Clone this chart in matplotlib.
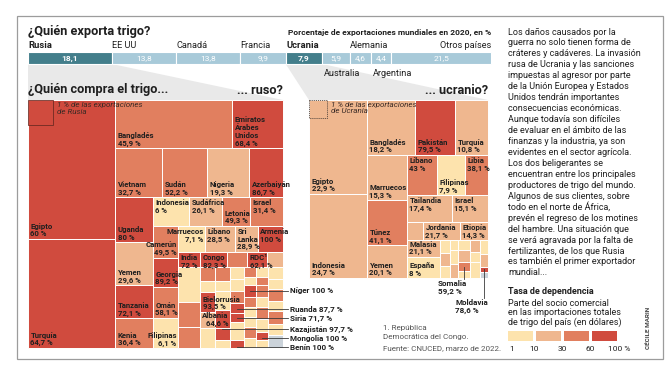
import matplotlib.pyplot as plt
from matplotlib.patches import Rectangle, Polygon

plt.rcParams['font.family'] = ['Roboto', 'DejaVu Sans']

# ---- world exports (top bar), % of world wheat exports 2020
exporters = ["Rusia", "EE UU", "Canadá", "Francia", "Ucrania", "Australia",
             "Alemania", "Argentina", "Otros países"]
export_share = [18.1, 13.8, 13.8, 9.9, 7.9, 5.9, 4.6, 4.4, 21.5]
highlight = ["Rusia", "Ucrania"]
named_below = ["Australia", "Argentina"]

# ---- buyers of Russian wheat: (name, share of exports %, dependency %)
ru_col_a = [("Egipto", 19.12, 60), ("Turquía", 15.0, 64.7)]
ru_row1 = [("Bangladés", 8.88, 45.9), ("Emiratos\nÁrabes\nUnidos", 3.87, 68.4)]
ru_row2 = [("Vietnam", 3.64, 32.7), ("Sudán", 3.49, 52.2), ("Nigeria", 3.25, 19.3),
           ("Azerbaiyán", 2.63, 86.7)]
ru_col_b1 = [("Uganda", 2.70, 80), ("Yemen", 2.58, 29.6), ("Tanzania", 1.98, 72.1),
             ("Kenia", 1.80, 36.4)]
ru_row_a = [("Indonesia", 1.65, 6), ("Sudáfrica", 1.51, 26.1), ("Letonia", 1.28, 49.3),
            ("Israel", 1.51, 31.4)]
ru_col_c1 = [("Camerún", 1.26, 49.5), ("Georgia", 1.15, 89.2), ("Omán", 1.23, 58.1),
             ("Filipinas", 1.19, 6.1)]
ru_row_b = [("Marruecos", 1.11, 7.1), ("Líbano", 1.23, 28.5), ("Sri\nLanka", 0.95, 28.9),
            ("Armenia", 1.03, 100)]
ru_row_c = [("India", 0.52, 72), ("Congo", 0.64, 82.3), ("", 0.47, 45), ("RDC¹", 0.47, 62.1),
            ("", 0.38, 12)]
ru_small = [
    [("", 1.22, 6), ("", 0.87, 40), ("", 0.73, 35)],
    [("", 0.33, 45), ("", 0.26, 8), ("Bielorrusia", 0.47, 93.5), ("", 0.38, 20), ("", 0.47, 5)],
    [("", 0.33, 50), ("", 0.24, 4), ("", 0.45, 3), ("Albania", 0.43, 64.6),
     ("Kazajistán", 0.28, 97.7), ("", 0.19, 6)],
    [("", 0.27, 6), ("", 0.27, 4), ("", 0.27, 45), ("Ruanda", 0.22, 87.7), ("Siria", 0.20, 71.7),
     ("", 0.40, 5), ("Benín", 0.18, 100)],
    [("", 0.19, 40), ("", 0.15, 5), ("Níger", 0.23, 100), ("", 0.19, 35), ("", 0.19, 3),
     ("", 0.19, 5), ("", 0.21, 40), ("", 0.19, 4)],
    [("", 0.19, 4), ("", 0.15, 45), ("", 0.23, 40), ("", 0.19, 4), ("", 0.23, 40), ("", 0.25, 3),
     ("Mongolia", 0.15, 100), ("", 0.15, 3)],
    [("", 0.28, 5), ("", 0.24, 3), ("", 0.28, 45), ("", 0.24, 3), ("", 0.31, 40), ("", 0.26, 5),
     ("", 0.31, None)],
]
ru_top = ["Indonesia", "Sudáfrica", "Israel", "Marruecos", "Líbano", "Armenia", "India",
          "Congo", "RDC¹"]
ru_right = ["Camerún", "Marruecos", "Albania", "Filipinas"]
ru_callouts = ["Níger", "Ruanda", "Siria", "Kazajistán", "Mongolia", "Benín"]

# ---- buyers of Ukrainian wheat
ua_col_a = [("Egipto", 17.1, 22.9), ("Indonesia", 15.3, 24.7)]
ua_row1 = [("Bangladés", 8.29, 18.2), ("Pakistán", 6.9, 79.5), ("Turquía", 5.7, 10.8)]
ua_col_m = [("Marruecos", 5.65, 15.3), ("Túnez", 5.65, 41.1), ("Yemen", 4.14, 20.1)]
ua_row2 = [("Líbano", 3.77, 43), ("Filipinas", 3.52, 7.9), ("Libia", 2.89, 38.1)]
ua_row3 = [("Tailandia", 3.81, 17.4), ("Israel", 3.05, 15.1)]
ua_row4 = [("", 0.9, 12), ("Jordania", 2.09, 21.7), ("Etiopía", 1.58, 14.3)]
ua_col_n = [("Malasia", 1.76, 21.1), ("España", 2.18, 8)]
ua_small = [
    [("", 0.41, 5), ("", 0.41, 20), ("", 0.38, 3)],
    [("", 0.25, 3), ("", 0.35, 4), ("", 0.35, 15)],
    [("", 0.38, 4), ("", 0.45, 18), ("Somalia", 0.34, 59.2), ("", 0.26, 3)],
    [("", 0.38, 15), ("", 0.31, 3), ("", 0.5, 5)],
    [("", 0.35, 4), ("", 0.33, 20), ("Moldavia", 0.13, 78.6), ("", 0.15, None)],
]
ua_top = ["Líbano", "Libia", "Tailandia", "Israel", "Jordania", "Etiopía"]
ua_callouts = ["Somalia", "Moldavia"]

legend_ticks = ["1", "10", "30", "60", "100 %"]
legend_colors = ['#fde3ad', '#efb78f', '#e17f5f', '#d04b3e']

body = """Los daños causados por la
guerra no solo tienen forma de
cráteres y cadáveres. La invasión
rusa de Ucrania y las sanciones
impuestas al agresor por parte
de la Unión Europea y Estados
Unidos tendrán importantes
consecuencias económicas.
Aunque todavía son difíciles
de evaluar en el ámbito de las
finanzas y la industria, ya son
evidentes en el sector agrícola.
Los dos beligerantes se
encuentran entre los principales
productores de trigo del mundo.
Algunos de sus clientes, sobre
todo en el norte de África,
prevén el regreso de los motines
del hambre. Una situación que
se verá agravada por la falta de
fertilizantes, de los que Rusia
es también el primer exportador
mundial...""".split("\n")

DARK = '#1f1f1f'


def dep_color(v):
    if v is None:
        return '#cbd3da'
    if v < 10:
        return legend_colors[0]
    if v < 30:
        return legend_colors[1]
    if v < 60:
        return legend_colors[2]
    return legend_colors[3]


def fmt(v):
    s = f"{v:.1f}".rstrip('0').rstrip('.')
    return s.replace('.', ',') + " %"


def total(node):
    if isinstance(node[0], str) and not isinstance(node[1], list):
        return node[1]
    return sum(total(c) for c in node[1])


def layout(node, x, y, w, h, out):
    if isinstance(node[0], str) and not isinstance(node[1], list):
        out.append((x, y, w, h, node))
        return
    direction, children = node
    tot = sum(total(c) for c in children)
    for c in children:
        f = total(c) / tot
        if direction == 'h':
            layout(c, x, y, w * f, h, out)
            x += w * f
        else:
            layout(c, x, y, w, h * f, out)
            y += h * f


def draw_tree(ax, tree, rect, top_names, right_names, callouts):
    cells = []
    layout(tree, rect[0], rect[1], rect[2], rect[3], cells)
    found = {}
    for x, y, w, h, (name, share, dep) in cells:
        ax.add_patch(Rectangle((x, y), w, h, facecolor=dep_color(dep),
                               edgecolor='white', lw=0.7))
        if name:
            found[name] = (x, y, w, h, dep)
    for name, (x, y, w, h, dep) in found.items():
        if name in callouts:
            continue
        tx = x + w - 1.5 if name in right_names else x + 2.5
        ha = 'right' if name in right_names else 'left'
        if name in top_names:
            ax.text(tx, y + 2, f"{name}\n{fmt(dep)}", ha=ha, va='top', fontsize=5.6,
                    fontweight='bold', color=DARK, linespacing=1.1)
        else:
            ax.text(tx, y + h - 1.5, f"{name}\n{fmt(dep)}", ha=ha, va='bottom', fontsize=5.6,
                    fontweight='bold', color=DARK, linespacing=1.1)
    return found


fig = plt.figure(figsize=(6.72, 3.76), dpi=100)
ax = fig.add_axes([0, 0, 1, 1])
ax.set_xlim(0, 672)
ax.set_ylim(376, 0)
ax.axis('off')

# frame
ax.add_patch(Rectangle((17, 16), 646, 343, fill=False, edgecolor='#9c9c9c', lw=0.9))

# ---- top bar
bar_x, bar_w = 28, 463
k = bar_w / sum(export_share)
lefts = [bar_x + k * sum(export_share[:i]) for i in range(len(export_share))]
widths = [k * v for v in export_share]
bar_cols = ['#437e8b' if n in highlight else '#a8cad9' for n in exporters]

# funnels to the treemaps
ru_rect = (28, 100, 255, 248)
ua_rect = (309, 100, 179, 178)
i_ru, i_ua = exporters.index("Rusia"), exporters.index("Ucrania")
ax.add_patch(Polygon([(lefts[i_ru], 64), (lefts[i_ru] + widths[i_ru], 64),
                      (ru_rect[0] + ru_rect[2], ru_rect[1]), (ru_rect[0], ru_rect[1])],
                     facecolor='#e9e9e9', edgecolor='none'))
ax.add_patch(Polygon([(lefts[i_ua], 64), (lefts[i_ua] + widths[i_ua], 64),
                      (ua_rect[0] + ua_rect[2], ua_rect[1]), (ua_rect[0], ua_rect[1])],
                     facecolor='#e9e9e9', edgecolor='none'))

ax.barh(58, widths, left=lefts, height=12, color=bar_cols, edgecolor='white', lw=0.8)
for n, v, l, w in zip(exporters, export_share, lefts, widths):
    bold = 'bold' if n in highlight else 'normal'
    ax.text(l + w / 2, 58.5, f"{v:.1f}".replace('.', ','), ha='center', va='center',
            fontsize=6, color='white', fontweight=bold)
    if n in named_below:
        ax.text(l + 2, 73, n, ha='left', va='center', fontsize=6.6, color=DARK)
    elif n == "Otros países":
        ax.text(l + w, 45, n, ha='right', va='center', fontsize=6.6, color=DARK)
    else:
        ax.text(l + 0.5, 45, n, ha='left', va='center', fontsize=6.8 if bold == 'bold' else 6.6,
                color=DARK, fontweight=bold)

ax.text(28, 32, "¿Quién exporta trigo?", fontsize=9.2, fontweight='bold', color=DARK,
        va='center', ha='left')
ax.text(491, 32, "Porcentaje de exportaciones mundiales en 2020, en %", fontsize=6,
        fontweight='bold', color=DARK, va='center', ha='right')
ax.text(28, 90, "¿Quién compra el trigo...", fontsize=9.2, fontweight='bold', color=DARK,
        va='center', ha='left')
ax.text(283, 90, "... ruso?", fontsize=9.2, fontweight='bold', color=DARK, va='center', ha='right')
ax.text(488, 90, "... ucranio?", fontsize=9.2, fontweight='bold', color=DARK, va='center',
        ha='right')

# ---- Russian treemap
ru_tree = ('h', [
    ('v', ru_col_a),
    ('v', [
        ('h', ru_row1),
        ('h', ru_row2),
        ('h', [
            ('v', ru_col_b1),
            ('v', [
                ('h', ru_row_a),
                ('h', [
                    ('v', ru_col_c1),
                    ('v', [('h', ru_row_b), ('h', ru_row_c),
                           ('h', [('v', col) for col in ru_small])]),
                ]),
            ]),
        ]),
    ]),
])
ru_cells = draw_tree(ax, ru_tree, ru_rect, ru_top, ru_right, ru_callouts)

side = (0.01 * ru_rect[2] * ru_rect[3]) ** 0.5
ax.add_patch(Rectangle((ru_rect[0], ru_rect[1]), side, side, fill=False, edgecolor='#6e2a22',
                       lw=0.6))
ax.text(ru_rect[0] + side + 4, ru_rect[1] + 2, "1 % de las exportaciones\nde Rusia", fontsize=5.8,
        style='italic', color='#3a2a25', va='top', ha='left', linespacing=1.1)

callout_y = [291, 309, 318, 329, 338, 347]
for name, ly in zip(ru_callouts, callout_y):
    x, y, w, h, dep = ru_cells[name]
    ax.plot([x + w / 2, 288], [ly, ly], color='#3a3a3a', lw=0.6)
    ax.text(290, ly, f"{name} {fmt(dep)}", fontsize=5.8, fontweight='bold', color=DARK,
            va='center', ha='left')

# ---- Ukrainian treemap
ua_tree = ('h', [
    ('v', ua_col_a),
    ('v', [
        ('h', ua_row1),
        ('h', [
            ('v', ua_col_m),
            ('v', [('h', ua_row2), ('h', ua_row3), ('h', ua_row4),
                   ('h', [('v', ua_col_n)] + [('v', col) for col in ua_small])]),
        ]),
    ]),
])
ua_cells = draw_tree(ax, ua_tree, ua_rect, ua_top, [], ua_callouts)

side = (0.01 * ua_rect[2] * ua_rect[3]) ** 0.5
ax.add_patch(Rectangle((ua_rect[0], ua_rect[1]), side, side, fill=False, edgecolor='#5a4a40',
                       lw=0.6, linestyle=(0, (1.5, 1))))
ax.text(ua_rect[0] + side + 4, ua_rect[1] + 1.5, "1 % de las exportaciones\nde Ucrania",
        fontsize=5.8, style='italic', color='#3a2a25', va='top', ha='left', linespacing=1.1)

for name, end_y, tx in zip(ua_callouts, [279, 298], [438, 455]):
    x, y, w, h, dep = ua_cells[name]
    ax.plot([x + w / 2, x + w / 2], [y + h / 2, end_y], color='#3a3a3a', lw=0.6)
    ax.text(tx, end_y + 1, f"{name}\n{fmt(dep)}", fontsize=5.8, fontweight='bold', color=DARK,
            va='top', ha='left', linespacing=1.1)

# footnotes
ax.text(383, 328, "1. República", fontsize=5.8, color='#555555', va='center')
ax.text(383, 337, "Democrática del Congo.", fontsize=5.8, color='#555555', va='center')
ax.text(383, 348, "Fuente: CNUCED, marzo de 2022.", fontsize=5.8, color='#555555', va='center')

# ---- right column text
for i, line in enumerate(body):
    ax.text(508, 32 + i * 10.95, line, fontsize=6.5, color=DARK, va='center', ha='left')

ax.text(508, 292, "Tasa de dependencia", fontsize=6.5, fontweight='bold', color=DARK,
        va='center')
for i, line in enumerate(["Parte del socio comercial", "en las importaciones totales",
                          "de trigo del país (en dólares)"]):
    ax.text(508, 303 + i * 9.8, line, fontsize=6.5, color=DARK, va='center')

sw_w, sw_gap = 25, 3
for i, c in enumerate(legend_colors):
    ax.add_patch(Rectangle((508 + i * (sw_w + sw_gap), 331), sw_w, 10, facecolor=c,
                           edgecolor='none'))
for i, t in enumerate(legend_ticks):
    if i == 0:
        ax.text(509, 349, t, fontsize=6, color=DARK, va='center', ha='left')
    elif i == len(legend_ticks) - 1:
        ax.text(508 + 4 * (sw_w + sw_gap) - 12, 349, t, fontsize=6, color=DARK, va='center',
                ha='left')
    else:
        ax.text(508 + i * (sw_w + sw_gap) - sw_gap / 2, 349, t, fontsize=6, color=DARK,
                va='center', ha='center')

ax.text(649, 328, "CÉCILE MARIN", fontsize=4.6, color='#444444', rotation=90, va='center',
        ha='center', fontweight='bold')

fig.savefig('out.png', dpi=100, facecolor='white')
